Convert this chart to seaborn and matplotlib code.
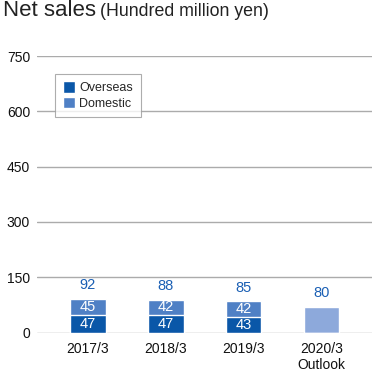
import numpy as np
import pandas as pd
import matplotlib.pyplot as plt
from matplotlib.patches import Patch
import seaborn as sns

years = ['2017/3', '2018/3', '2019/3', '2020/3\nOutlook']
overseas = [47, 47, 43, 0]
domestic = [45, 42, 42, 0]
outlook_bar = [0, 0, 0, 70]   # outlook bar as drawn in the picture
total_labels = ['92', '88', '85', '80']
yticks = [0, 150, 300, 450, 600, 750]

c_over = '#0A57A8'
c_dom = '#4F80C5'
c_out = '#8DA9DB'
c_text = '#1A5FB4'

sns.set_theme(style='white')
plt.rcParams['font.family'] = ['Liberation Sans', 'DejaVu Sans']

df = pd.DataFrame({'year': years, 'overseas': overseas, 'domestic': domestic,
                   'outlook': outlook_bar})
df['stack'] = df['overseas'] + df['domestic'] + df['outlook']

fig = plt.figure(figsize=(3.74, 3.72), dpi=100)
ax = fig.add_axes([37/374, 1 - 332.5/372, 335/374, 276.5/372])

pal = [c_dom, c_dom, c_dom, c_out]
sns.barplot(data=df, x='year', y='stack', hue='year', palette=pal, legend=False,
            width=0.456, dodge=False, saturation=1, ax=ax, zorder=3)
sns.barplot(data=df, x='year', y='overseas', color=c_over, width=0.456,
            saturation=1, ax=ax, zorder=4)

for i, row in df.iterrows():
    if row['overseas'] > 0:
        ax.text(i, row['overseas'] / 2, str(row['overseas']), ha='center', va='center',
                color='white', fontsize=10.5, zorder=5)
        ax.text(i, row['overseas'] + row['domestic'] / 2, str(row['domestic']),
                ha='center', va='center', color='white', fontsize=10.5, zorder=5)
    ax.text(i, row['stack'] + 18, total_labels[i], ha='center', va='bottom',
            color=c_text, fontsize=10.5, zorder=5)

ax.set_ylim(0, 750)
ax.set_xlim(-0.655, 3.65)
ax.set_yticks(yticks)
ax.yaxis.grid(True, color='#ABABAB', linewidth=1)
ax.set_axisbelow(True)
for s in ax.spines.values():
    s.set_visible(False)
ax.tick_params(axis='both', length=0, labelsize=10, colors='#111111')
ax.tick_params(axis='x', pad=7)
ax.tick_params(axis='y', pad=5)
ax.set_xlabel('')
ax.set_ylabel('')

handles = [Patch(facecolor=c_over, label='Overseas'),
           Patch(facecolor=c_dom, label='Domestic')]
leg = ax.legend(handles=handles, loc='upper left', bbox_to_anchor=(0.054, 0.935),
                fontsize=9, frameon=True, fancybox=False, borderpad=0.6,
                handlelength=1.0, handleheight=1.0, handletextpad=0.35,
                labelspacing=0.2, borderaxespad=0)
leg.get_frame().set_edgecolor('#999999')
leg.get_frame().set_linewidth(0.8)

fig.text(0.008, 0.957, 'Net sales', fontsize=16, color='#222222', va='baseline')
fig.text(0.268, 0.957, '(Hundred million yen)', fontsize=12.8, color='#222222',
         va='baseline')

fig.savefig('out.png', dpi=100, facecolor='white')
